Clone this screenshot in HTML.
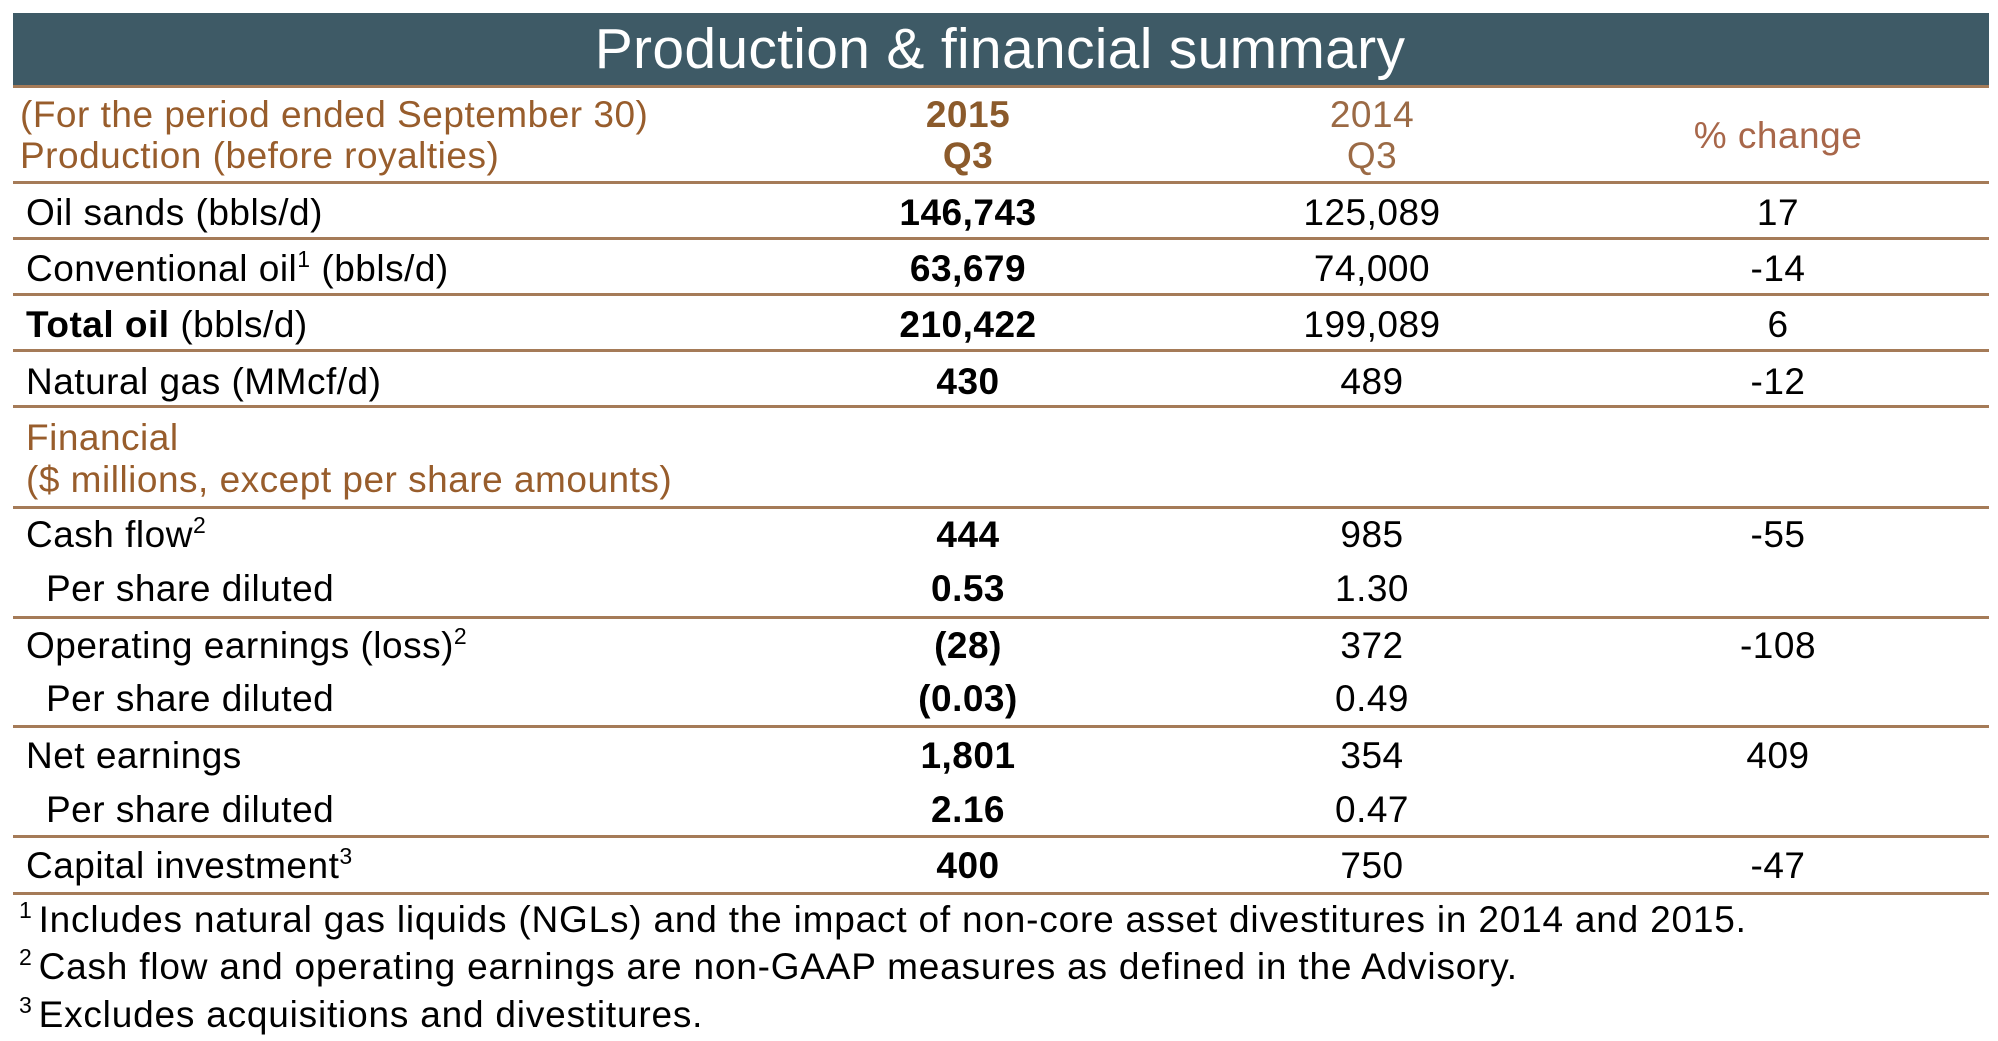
<!DOCTYPE html>
<html><head><meta charset="utf-8">
<style>
html,body{margin:0;padding:0;background:#fff;}
#page{position:relative;width:1998px;height:1041px;overflow:hidden;font-family:"Liberation Sans",sans-serif;}
.t{position:absolute;height:44px;line-height:44px;font-size:37px;color:#000;white-space:nowrap;letter-spacing:0.5px;}
.c{transform:translateX(-50%);}
.b{font-weight:bold;}
.br{color:#985d2c;}
.hl{position:absolute;left:13px;width:1976px;height:3px;background:#a57b58;}
sup{font-size:23px;vertical-align:14px;line-height:0;}
.fn{font-size:37px;letter-spacing:0.8px;}
.fn sup{margin-right:6px;}
</style></head><body>
<div id="page">
<div style="position:absolute;left:13px;top:13px;width:1976px;height:72px;background:#3e5a66;"></div>
<div class="t c" style="left:1000px;top:19px;height:60px;line-height:60px;font-size:57px;color:#fff;letter-spacing:0.3px;">Production &amp; financial summary</div>
<div class="hl" style="top:85px"></div>

<div class="t br" style="left:20px;top:93px">(For the period ended September 30)</div>
<div class="t br" style="left:20px;top:134px">Production (before royalties)</div>
<div class="t c b" style="left:968px;top:93px;color:#8b5a2b">2015</div>
<div class="t c b" style="left:968px;top:134px;color:#8b5a2b">Q3</div>
<div class="t c" style="left:1372px;top:93px;color:#9b6a45">2014</div>
<div class="t c" style="left:1372px;top:134px;color:#9b6a45">Q3</div>
<div class="t c" style="left:1778px;top:114px;color:#a8674a">% change</div>
<div class="hl" style="top:181px"></div>

<div class="t" style="left:26px;top:191px">Oil sands (bbls/d)</div>
<div class="t c b" style="left:968px;top:191px">146,743</div>
<div class="t c" style="left:1372px;top:191px">125,089</div>
<div class="t c" style="left:1778px;top:191px">17</div>
<div class="hl" style="top:237px"></div>

<div class="t" style="left:26px;top:247px">Conventional oil<sup>1</sup> (bbls/d)</div>
<div class="t c b" style="left:968px;top:247px">63,679</div>
<div class="t c" style="left:1372px;top:247px">74,000</div>
<div class="t c" style="left:1778px;top:247px">-14</div>
<div class="hl" style="top:293px"></div>

<div class="t" style="left:26px;top:303px"><b>Total oil</b> (bbls/d)</div>
<div class="t c b" style="left:968px;top:303px">210,422</div>
<div class="t c" style="left:1372px;top:303px">199,089</div>
<div class="t c" style="left:1778px;top:303px">6</div>
<div class="hl" style="top:349px"></div>

<div class="t" style="left:26px;top:360px">Natural gas (MMcf/d)</div>
<div class="t c b" style="left:968px;top:360px">430</div>
<div class="t c" style="left:1372px;top:360px">489</div>
<div class="t c" style="left:1778px;top:360px">-12</div>
<div class="hl" style="top:405px"></div>

<div class="t br" style="left:26px;top:416px">Financial</div>
<div class="t br" style="left:26px;top:458px">($ millions, except per share amounts)</div>
<div class="hl" style="top:506px"></div>

<div class="t" style="left:26px;top:513px">Cash flow<sup>2</sup></div>
<div class="t c b" style="left:968px;top:513px">444</div>
<div class="t c" style="left:1372px;top:513px">985</div>
<div class="t c" style="left:1778px;top:513px">-55</div>
<div class="t" style="left:46px;top:567px">Per share diluted</div>
<div class="t c b" style="left:968px;top:567px">0.53</div>
<div class="t c" style="left:1372px;top:567px">1.30</div>
<div class="hl" style="top:616px"></div>

<div class="t" style="left:26px;top:624px">Operating earnings (loss)<sup>2</sup></div>
<div class="t c b" style="left:968px;top:624px">(28)</div>
<div class="t c" style="left:1372px;top:624px">372</div>
<div class="t c" style="left:1778px;top:624px">-108</div>
<div class="t" style="left:46px;top:677px">Per share diluted</div>
<div class="t c b" style="left:968px;top:677px">(0.03)</div>
<div class="t c" style="left:1372px;top:677px">0.49</div>
<div class="hl" style="top:725px"></div>

<div class="t" style="left:26px;top:734px">Net earnings</div>
<div class="t c b" style="left:968px;top:734px">1,801</div>
<div class="t c" style="left:1372px;top:734px">354</div>
<div class="t c" style="left:1778px;top:734px">409</div>
<div class="t" style="left:46px;top:788px">Per share diluted</div>
<div class="t c b" style="left:968px;top:788px">2.16</div>
<div class="t c" style="left:1372px;top:788px">0.47</div>
<div class="hl" style="top:835px"></div>

<div class="t" style="left:26px;top:844px">Capital investment<sup>3</sup></div>
<div class="t c b" style="left:968px;top:844px">400</div>
<div class="t c" style="left:1372px;top:844px">750</div>
<div class="t c" style="left:1778px;top:844px">-47</div>
<div class="hl" style="top:892px"></div>

<div class="t fn" style="left:19px;top:898px"><sup>1</sup>Includes natural gas liquids (NGLs) and the impact of non-core asset divestitures in 2014 and 2015.</div>
<div class="t fn" style="left:19px;top:945px"><sup>2</sup>Cash flow and operating earnings are non-GAAP measures as defined in the Advisory.</div>
<div class="t fn" style="left:19px;top:993px"><sup>3</sup>Excludes acquisitions and divestitures.</div>
</div>
</body></html>
